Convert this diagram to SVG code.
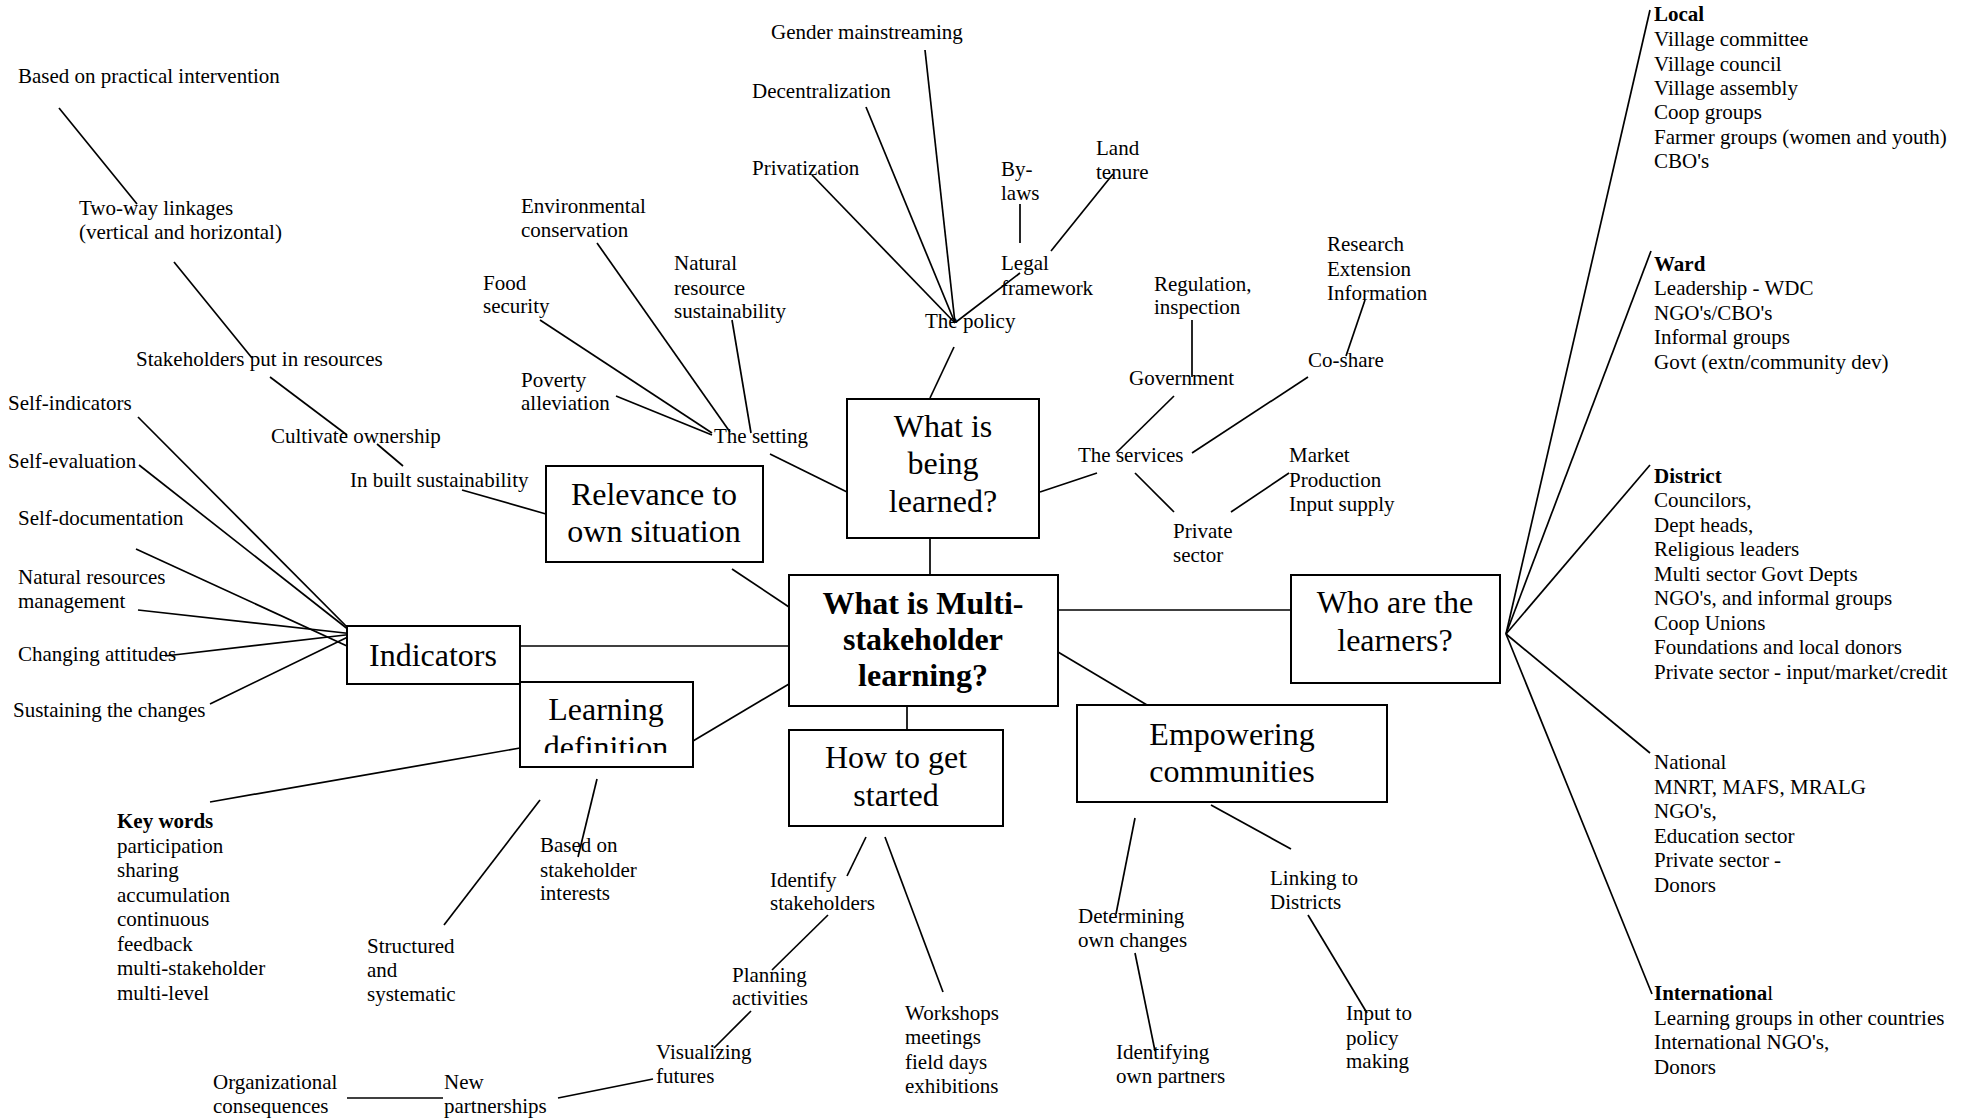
<svg xmlns="http://www.w3.org/2000/svg" width="1973" height="1118" viewBox="0 0 1973 1118">
<style>
text{font-family:"Liberation Serif","Times New Roman",serif;fill:#000}
.t{font-size:21px}
.bx{font-size:32px;text-anchor:middle}
.bd{font-weight:bold}
.box{fill:#fff;stroke:#000;stroke-width:2}
#connectors line{stroke:#000;stroke-width:1.7}
</style>
<defs>
<clipPath id="ldclip"><rect x="521" y="683" width="171" height="70"/></clipPath>
</defs>
<rect width="1973" height="1118" fill="#fff"/>
<g id="connectors">
<line x1="59" y1="108" x2="137" y2="204"/>
<line x1="174" y1="262" x2="252" y2="358"/>
<line x1="270" y1="377" x2="347" y2="435"/>
<line x1="377" y1="444" x2="403" y2="466"/>
<line x1="462" y1="490" x2="546" y2="514"/>
<line x1="138" y1="417" x2="354" y2="634"/>
<line x1="139" y1="465" x2="354" y2="634"/>
<line x1="136" y1="549" x2="347" y2="646"/>
<line x1="138" y1="610" x2="354" y2="634"/>
<line x1="165" y1="656" x2="354" y2="634"/>
<line x1="210" y1="704" x2="354" y2="634"/>
<line x1="520" y1="646" x2="789" y2="646"/>
<line x1="732" y1="569" x2="789" y2="607"/>
<line x1="693" y1="741" x2="789" y2="684"/>
<line x1="520" y1="748" x2="210" y2="802"/>
<line x1="540" y1="800" x2="444" y2="925"/>
<line x1="597" y1="779" x2="578" y2="857"/>
<line x1="925" y1="50" x2="955" y2="323"/>
<line x1="866" y1="107" x2="955" y2="323"/>
<line x1="812" y1="175" x2="955" y2="323"/>
<line x1="1020" y1="273" x2="956" y2="322"/>
<line x1="1020" y1="204" x2="1020" y2="243"/>
<line x1="1113" y1="174" x2="1051" y2="251"/>
<line x1="954" y1="347" x2="930" y2="398"/>
<line x1="540" y1="320" x2="712" y2="433"/>
<line x1="597" y1="243" x2="730" y2="432"/>
<line x1="732" y1="320" x2="751" y2="433"/>
<line x1="616" y1="396" x2="712" y2="435"/>
<line x1="770" y1="454" x2="847" y2="492"/>
<line x1="930" y1="538" x2="930" y2="587"/>
<line x1="1192" y1="320" x2="1192" y2="377"/>
<line x1="1365" y1="300" x2="1346" y2="356"/>
<line x1="1308" y1="377" x2="1192" y2="453"/>
<line x1="1174" y1="396" x2="1116" y2="453"/>
<line x1="1097" y1="473" x2="1040" y2="492"/>
<line x1="1135" y1="473" x2="1174" y2="512"/>
<line x1="1231" y1="512" x2="1289" y2="473"/>
<line x1="1050" y1="610" x2="1291" y2="610"/>
<line x1="1058" y1="652" x2="1147" y2="705"/>
<line x1="1506" y1="634" x2="1650" y2="10"/>
<line x1="1506" y1="634" x2="1651" y2="251"/>
<line x1="1506" y1="634" x2="1650" y2="465"/>
<line x1="1506" y1="634" x2="1650" y2="753"/>
<line x1="1506" y1="634" x2="1652" y2="994"/>
<line x1="1135" y1="818" x2="1116" y2="914"/>
<line x1="1211" y1="805" x2="1291" y2="849"/>
<line x1="1308" y1="915" x2="1367" y2="1013"/>
<line x1="1135" y1="953" x2="1155" y2="1051"/>
<line x1="907" y1="706" x2="907" y2="730"/>
<line x1="866" y1="837" x2="847" y2="876"/>
<line x1="885" y1="837" x2="943" y2="992"/>
<line x1="828" y1="915" x2="772" y2="970"/>
<line x1="751" y1="1011" x2="714" y2="1048"/>
<line x1="653" y1="1079" x2="558" y2="1098"/>
<line x1="347" y1="1098" x2="443" y2="1098"/>
</g>
<g id="center">
<rect class="box" x="789" y="575" width="269" height="131"/>
<text class="bx bd" x="923" y="614">What is Multi-</text>
<text class="bx bd" x="923" y="650">stakeholder</text>
<text class="bx bd" x="923" y="686">learning?</text>
</g>
<g id="what-learned">
<rect class="box" x="847" y="399" width="192" height="139"/>
<text class="bx" x="943" y="437">What is</text>
<text class="bx" x="943" y="474">being</text>
<text class="bx" x="943" y="512">learned?</text>
</g>
<g id="relevance">
<rect class="box" x="546" y="466" width="217" height="96"/>
<text class="bx" x="654" y="505">Relevance to</text>
<text class="bx" x="654" y="542">own situation</text>
</g>
<g id="indicators">
<rect class="box" x="347" y="626" width="173" height="58"/>
<text class="bx" x="433" y="666">Indicators</text>
</g>
<g id="learning-definition">
<rect class="box" x="520" y="682" width="173" height="85"/>
<text class="bx" x="606" y="720">Learning</text>
<text class="bx" x="606" y="758" clip-path="url(#ldclip)">definition</text>
</g>
<g id="how-to-start">
<rect class="box" x="789" y="730" width="214" height="96"/>
<text class="bx" x="896" y="768">How to get</text>
<text class="bx" x="896" y="806">started</text>
</g>
<g id="who-learners">
<rect class="box" x="1291" y="575" width="209" height="108"/>
<text class="bx" x="1395" y="613">Who are the</text>
<text class="bx" x="1395" y="651">learners?</text>
</g>
<g id="empowering">
<rect class="box" x="1077" y="705" width="310" height="97"/>
<text class="bx" x="1232" y="745">Empowering</text>
<text class="bx" x="1232" y="782">communities</text>
</g>
<g id="based-practical"><text class="t" x="18" y="83">Based on practical intervention</text></g>
<g id="two-way"><text class="t" x="79" y="215">Two-way linkages</text><text class="t" x="79" y="239">(vertical and horizontal)</text></g>
<g id="stakeholders-resources"><text class="t" x="136" y="366">Stakeholders put in resources</text></g>
<g id="cultivate"><text class="t" x="271" y="443">Cultivate ownership</text></g>
<g id="inbuilt"><text class="t" x="350" y="487">In built sustainability</text></g>
<g id="self-indicators"><text class="t" x="8" y="410">Self-indicators</text></g>
<g id="self-evaluation"><text class="t" x="8" y="468">Self-evaluation</text></g>
<g id="self-documentation"><text class="t" x="18" y="525">Self-documentation</text></g>
<g id="nrm"><text class="t" x="18" y="584">Natural resources</text><text class="t" x="18" y="608">management</text></g>
<g id="changing"><text class="t" x="18" y="661">Changing attitudes</text></g>
<g id="sustaining"><text class="t" x="13" y="717">Sustaining the changes</text></g>
<g id="keywords">
<text class="t bd" x="117" y="828">Key words</text>
<text class="t" x="117" y="853">participation</text>
<text class="t" x="117" y="877">sharing</text>
<text class="t" x="117" y="902">accumulation</text>
<text class="t" x="117" y="926">continuous</text>
<text class="t" x="117" y="951">feedback</text>
<text class="t" x="117" y="975">multi-stakeholder</text>
<text class="t" x="117" y="1000">multi-level</text>
</g>
<g id="structured"><text class="t" x="367" y="953">Structured</text><text class="t" x="367" y="977">and</text><text class="t" x="367" y="1001">systematic</text></g>
<g id="based-interests"><text class="t" x="540" y="852">Based on</text><text class="t" x="540" y="877">stakeholder</text><text class="t" x="540" y="900">interests</text></g>
<g id="organizational"><text class="t" x="213" y="1089">Organizational</text><text class="t" x="213" y="1113">consequences</text></g>
<g id="new-partnerships"><text class="t" x="444" y="1089">New</text><text class="t" x="444" y="1113">partnerships</text></g>
<g id="visualizing"><text class="t" x="656" y="1059">Visualizing</text><text class="t" x="656" y="1083">futures</text></g>
<g id="planning"><text class="t" x="732" y="982">Planning</text><text class="t" x="732" y="1005">activities</text></g>
<g id="identify"><text class="t" x="770" y="887">Identify</text><text class="t" x="770" y="910">stakeholders</text></g>
<g id="workshops"><text class="t" x="905" y="1020">Workshops</text><text class="t" x="905" y="1044">meetings</text><text class="t" x="905" y="1069">field days</text><text class="t" x="905" y="1093">exhibitions</text></g>
<g id="determining"><text class="t" x="1078" y="923">Determining</text><text class="t" x="1078" y="947">own changes</text></g>
<g id="identifying"><text class="t" x="1116" y="1059">Identifying</text><text class="t" x="1116" y="1083">own partners</text></g>
<g id="linking"><text class="t" x="1270" y="885">Linking to</text><text class="t" x="1270" y="909">Districts</text></g>
<g id="input-policy"><text class="t" x="1346" y="1020">Input to</text><text class="t" x="1346" y="1045">policy</text><text class="t" x="1346" y="1068">making</text></g>
<g id="gender"><text class="t" x="771" y="39">Gender mainstreaming</text></g>
<g id="decentralization"><text class="t" x="752" y="98">Decentralization</text></g>
<g id="privatization"><text class="t" x="752" y="175">Privatization</text></g>
<g id="bylaws"><text class="t" x="1001" y="176">By-</text><text class="t" x="1001" y="200">laws</text></g>
<g id="land-tenure"><text class="t" x="1096" y="155">Land</text><text class="t" x="1096" y="179">tenure</text></g>
<g id="legal"><text class="t" x="1001" y="270">Legal</text><text class="t" x="1001" y="295">framework</text></g>
<g id="policy"><text class="t" x="925" y="328">The policy</text></g>
<g id="environmental"><text class="t" x="521" y="213">Environmental</text><text class="t" x="521" y="237">conservation</text></g>
<g id="natural-resource"><text class="t" x="674" y="270">Natural</text><text class="t" x="674" y="295">resource</text><text class="t" x="674" y="318">sustainability</text></g>
<g id="food"><text class="t" x="483" y="290">Food</text><text class="t" x="483" y="313">security</text></g>
<g id="poverty"><text class="t" x="521" y="387">Poverty</text><text class="t" x="521" y="410">alleviation</text></g>
<g id="setting"><text class="t" x="714" y="443">The setting</text></g>
<g id="regulation"><text class="t" x="1154" y="291">Regulation,</text><text class="t" x="1154" y="314">inspection</text></g>
<g id="government"><text class="t" x="1129" y="385">Government</text></g>
<g id="research"><text class="t" x="1327" y="251">Research</text><text class="t" x="1327" y="276">Extension</text><text class="t" x="1327" y="300">Information</text></g>
<g id="coshare"><text class="t" x="1308" y="367">Co-share</text></g>
<g id="services"><text class="t" x="1078" y="462">The services</text></g>
<g id="private-sector"><text class="t" x="1173" y="538">Private</text><text class="t" x="1173" y="562">sector</text></g>
<g id="market"><text class="t" x="1289" y="462">Market</text><text class="t" x="1289" y="487">Production</text><text class="t" x="1289" y="511">Input supply</text></g>
<g id="local">
<text class="t bd" x="1654" y="21">Local</text>
<text class="t" x="1654" y="46">Village committee</text>
<text class="t" x="1654" y="71">Village council</text>
<text class="t" x="1654" y="95">Village assembly</text>
<text class="t" x="1654" y="119">Coop groups</text>
<text class="t" x="1654" y="144">Farmer groups (women and youth)</text>
<text class="t" x="1654" y="168">CBO's</text>
</g>
<g id="ward">
<text class="t bd" x="1654" y="271">Ward</text>
<text class="t" x="1654" y="295">Leadership - WDC</text>
<text class="t" x="1654" y="320">NGO's/CBO's</text>
<text class="t" x="1654" y="344">Informal groups</text>
<text class="t" x="1654" y="369">Govt (extn/community dev)</text>
</g>
<g id="district">
<text class="t bd" x="1654" y="483">District</text>
<text class="t" x="1654" y="507">Councilors,</text>
<text class="t" x="1654" y="532">Dept heads,</text>
<text class="t" x="1654" y="556">Religious leaders</text>
<text class="t" x="1654" y="581">Multi sector Govt Depts</text>
<text class="t" x="1654" y="605">NGO's, and informal groups</text>
<text class="t" x="1654" y="630">Coop Unions</text>
<text class="t" x="1654" y="654">Foundations and local donors</text>
<text class="t" x="1654" y="679">Private sector - input/market/credit</text>
</g>
<g id="national">
<text class="t" x="1654" y="769">National</text>
<text class="t" x="1654" y="794">MNRT, MAFS, MRALG</text>
<text class="t" x="1654" y="818">NGO's,</text>
<text class="t" x="1654" y="843">Education sector</text>
<text class="t" x="1654" y="867">Private sector -</text>
<text class="t" x="1654" y="892">Donors</text>
</g>
<g id="international">
<text class="t" x="1654" y="1000"><tspan class="bd">Internationa</tspan>l</text>
<text class="t" x="1654" y="1025">Learning groups in other countries</text>
<text class="t" x="1654" y="1049">International NGO's,</text>
<text class="t" x="1654" y="1074">Donors</text>
</g>
</svg>
